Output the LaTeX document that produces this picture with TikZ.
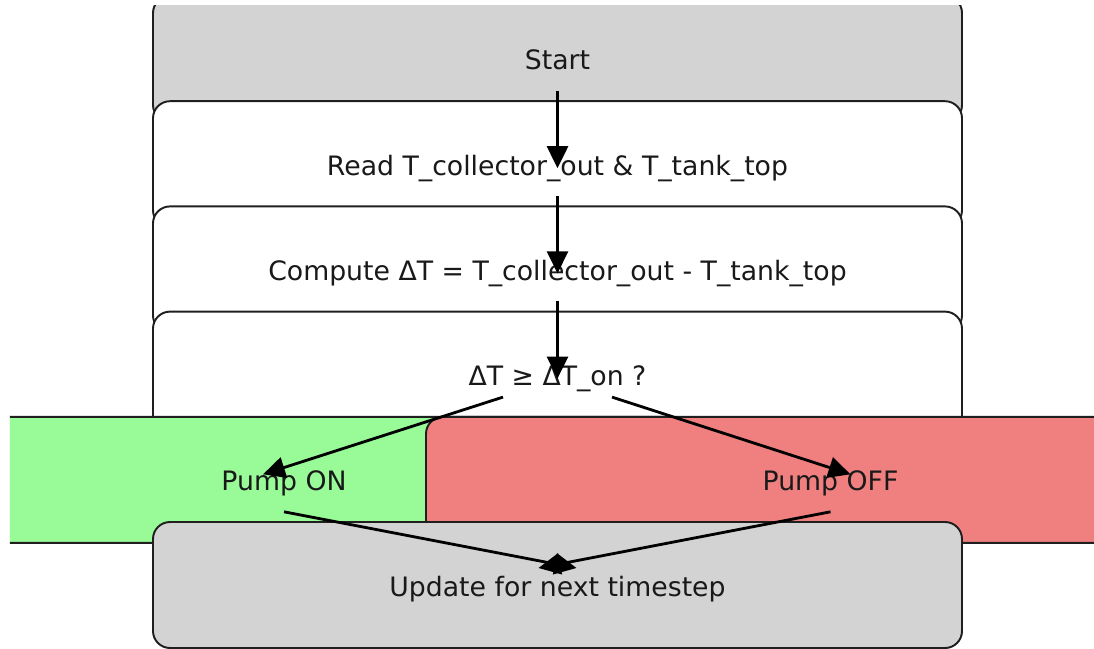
\documentclass[tikz,border=0pt]{standalone}
\usepackage{fontspec}
\setmainfont{DejaVu Sans}
\usepackage{tikz}
\usetikzlibrary{arrows.meta,positioning,calc}
\usepackage{xcolor}
\definecolor{boxgray}{HTML}{D3D3D3}
\definecolor{pumpgreen}{HTML}{98FB98}
\definecolor{pumpred}{HTML}{F08080}

\begin{document}
\begin{tikzpicture}[
    font=\fontsize{15.2}{18}\selectfont,
    stepbox/.style={draw=black!88,line width=1.1pt,rounded corners=0.34cm,
      minimum width=16.18cm,minimum height=2.52cm,inner sep=0pt,text=black!90,
      text height=0.46cm,text depth=0.02cm},
    endbox/.style={stepbox,fill=boxgray},
    workbox/.style={stepbox,fill=white},
    onbox/.style={stepbox,fill=pumpgreen},
    offbox/.style={stepbox,fill=pumpred},
    flow/.style={-{Triangle[length=4.4mm,width=4.2mm]},draw=black,line width=1.6pt}
  ]
    \useasboundingbox (0,0) rectangle (21.88,-12.96);
    \clip (0.2,-0.12) rectangle (21.88,-12.96);

    \node[endbox] (start) at (11.15,-1.18) {Start};
    \node[workbox] (read) at (11.15,-3.284) {Read T\_collector\_out \& T\_tank\_top};
    \node[workbox] (compute) at (11.15,-5.388) {Compute ΔT = T\_collector\_out - T\_tank\_top};
    \node[workbox] (decide) at (11.15,-7.492) {ΔT ≥ ΔT\_on ?};
    \node[onbox] (pumpon) at (5.68,-9.596) {Pump ON};
    \node[offbox] (pumpoff) at (16.61,-9.596) {Pump OFF};
    \node[endbox] (update) at (11.15,-11.70) {Update for next timestep};

    \draw[flow] ([yshift=-0.64cm]start.center) -- ([yshift=-0.08cm]read.center);
    \draw[flow] ([yshift=-0.64cm]read.center) -- ([yshift=-0.08cm]compute.center);
    \draw[flow] ([yshift=-0.64cm]compute.center) -- ([yshift=-0.08cm]decide.center);

    \draw[flow] ([shift={(-1.09,-0.45)}]decide.center) -- ([shift={(-0.42,0.11)}]pumpon.center);
    \draw[flow] ([shift={(1.09,-0.45)}]decide.center) -- ([shift={(0.40,0.11)}]pumpoff.center);

    \draw[flow] ([yshift=-0.64cm]pumpon.center) -- ([shift={(0.38,0.34)}]update.center);
    \draw[flow] ([yshift=-0.64cm]pumpoff.center) -- ([shift={(-0.38,0.34)}]update.center);
  \end{tikzpicture}
\end{document}
